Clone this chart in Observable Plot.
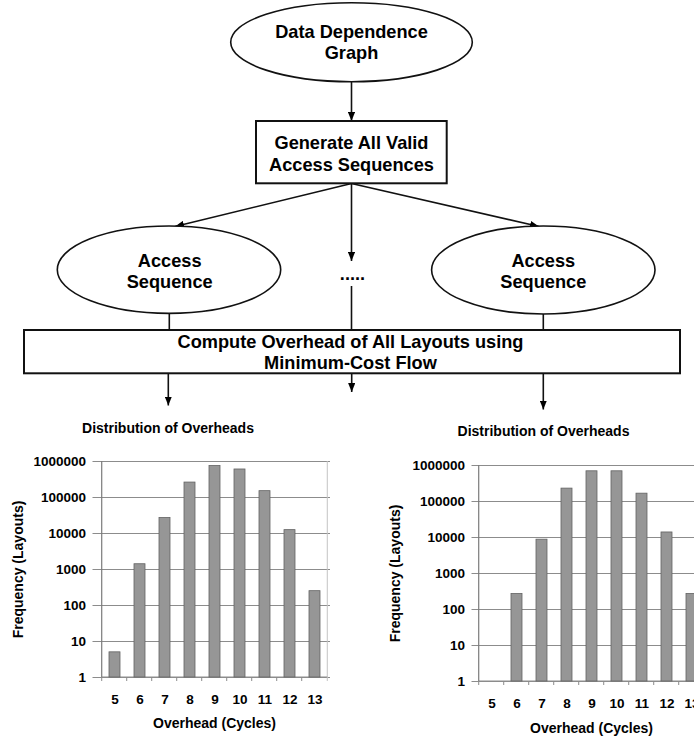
<!DOCTYPE html>
<html>
<head>
<meta charset="utf-8">
<script src="https://cdn.jsdelivr.net/npm/d3@7"></script>
<script src="https://cdn.jsdelivr.net/npm/@observablehq/plot@0.6"></script>
<style>
  html, body { margin: 0; padding: 0; background: #fff; }
  #figure {
    position: relative; width: 694px; height: 740px; overflow: hidden; background: #fff;
    font-family: "Liberation Sans", Arial, sans-serif; font-weight: bold;
  }
  #figure > svg { position: absolute; }
</style>
</head>
<body>
<div id="figure"></div>
<script>
// Overhead (cycles) categories and layout counts for the two access sequences
const overheads = [5, 6, 7, 8, 9, 10, 11, 12, 13];
const countsLeft = [5, 1400, 27000, 260000, 750000, 600000, 150000, 12400, 250];
const countsRight = [null, 270, 8700, 228000, 690000, 690000, 165000, 13800, 270];
const frequencyTicks = [1, 10, 100, 1000, 10000, 100000, 1000000];

const chartTitle = "Distribution of Overheads";
const xLabel = "Overhead (Cycles)";
const yLabel = "Frequency (Layouts)";

// Flowchart labels
const graphLabel = ["Data Dependence", "Graph"];
const generateLabel = ["Generate All Valid", "Access Sequences"];
const sequenceLabel = ["Access", "Sequence"];
const computeLabel = ["Compute Overhead of All Layouts using", "Minimum-Cost Flow"];
const ellipsisLabel = ".....";

const FONT = '"Liberation Sans", Arial, sans-serif';
const fig = document.getElementById("figure");

/* ---------- flowchart ---------- */
const svg = d3.select(fig).append("svg")
  .attr("width", 694).attr("height", 410)
  .style("left", "0px").style("top", "0px")
  .attr("font-family", FONT).attr("font-weight", "bold").attr("font-size", 18.2);

svg.append("defs").append("marker")
  .attr("id", "head").attr("viewBox", "0 0 10 8")
  .attr("refX", 10).attr("refY", 4)
  .attr("markerWidth", 9).attr("markerHeight", 7.5)
  .attr("markerUnits", "userSpaceOnUse").attr("orient", "auto")
  .append("path").attr("d", "M0,0L10,4L0,8Z").attr("fill", "#000");

const ink = "#111";
function ellipse(cx, cy, rx, ry) {
  svg.append("ellipse").attr("cx", cx).attr("cy", cy).attr("rx", rx).attr("ry", ry)
    .attr("fill", "#fff").attr("stroke", ink).attr("stroke-width", 1.6);
}
function box(x1, y1, x2, y2) {
  svg.append("rect").attr("x", x1).attr("y", y1).attr("width", x2 - x1).attr("height", y2 - y1)
    .attr("fill", "#fff").attr("stroke", ink).attr("stroke-width", 2);
}
function line(x1, y1, x2, y2, arrow) {
  const l = svg.append("line").attr("x1", x1).attr("y1", y1).attr("x2", x2).attr("y2", y2)
    .attr("stroke", ink).attr("stroke-width", 1.6);
  if (arrow) l.attr("marker-end", "url(#head)");
}
function label(lines, cx, baselines, size) {
  lines.forEach((t, i) => {
    svg.append("text").attr("x", cx).attr("y", baselines[i]).attr("text-anchor", "middle")
      .attr("font-size", size || 18.2).attr("fill", "#000").text(t);
  });
}

// connectors first so nodes sit on top
line(351.5, 82, 351.5, 121, true);
line(351.5, 183.5, 175, 226.5, true);
line(351.5, 183.5, 351.5, 261, true);
line(351.5, 183.5, 539, 226.5, true);
line(351.5, 286, 351.5, 330);
line(169.3, 313, 169.3, 330);
line(543.3, 313, 543.3, 330);
line(168.3, 373.5, 168.3, 405.5, true);
line(351.7, 373.5, 351.7, 392, true);
line(543.3, 373.5, 543.3, 409.5, true);

ellipse(351.5, 42.2, 120.8, 39.5);
box(256, 121, 446.7, 183.3);
ellipse(169, 269.7, 111.7, 43.7);
ellipse(543.3, 270, 111.7, 44);
box(24, 330, 680, 373.3);

label(graphLabel, 351.5, [38, 58.7]);
label(generateLabel, 351.5, [148.5, 170.8]);
label(sequenceLabel, 169.7, [266.8, 288]);
label(sequenceLabel, 543.3, [266.8, 288]);
label(computeLabel, 350.5, [348.4, 368.6]);
label([ellipsisLabel], 352.5, [280]);

/* ---------- frequency charts ---------- */
const PAD_INNER = 0.57;

// value axis line, category boundary ticks and the light right border
function categoryFrame() {
  return (index, {x, y}) => {
    const bw = x.bandwidth();
    const step = bw / (1 - PAD_INNER);
    const edges = overheads.map(d => x(d) + bw / 2 - step / 2);
    edges.push(x(overheads[overheads.length - 1]) + bw / 2 + step / 2);
    const x0 = edges[0], x1 = edges[edges.length - 1];
    const yb = y(frequencyTicks[0]), yt = y(frequencyTicks[frequencyTicks.length - 1]);
    const g = d3.create("svg:g");
    g.append("line").attr("x1", x1).attr("x2", x1).attr("y1", yt).attr("y2", yb)
      .attr("stroke", "#c4c4c4").attr("stroke-width", 1);
    g.append("line").attr("x1", x0).attr("x2", x1).attr("y1", yb).attr("y2", yb)
      .attr("stroke", "#8c8c8c").attr("stroke-width", 1);
    edges.forEach((e, i) => {
      g.append("line").attr("x1", e).attr("x2", e).attr("y1", yb).attr("y2", yb + 4)
        .attr("stroke", i === edges.length - 1 ? "#c4c4c4" : "#8c8c8c");
    });
    g.append("line").attr("x1", x0).attr("x2", x0).attr("y1", yt).attr("y2", yb)
      .attr("stroke", "#7a7a7a").attr("stroke-width", 1.2);
    return g.node();
  };
}

function overheadChart(counts, o) {
  const data = overheads.map((v, i) => ({overhead: v, count: counts[i]}))
    .filter(d => d.count != null && d.count > 0);
  const textStyle = {fontSize: 14, fontWeight: "bold", fill: "#000", lineAnchor: "middle", textAnchor: "middle"};
  const chart = Plot.plot({
    width: 340,
    height: 330,
    marginLeft: o.marginLeft,
    marginRight: o.marginRight,
    marginTop: o.marginTop,
    marginBottom: o.marginBottom,
    style: {fontFamily: FONT, fontWeight: "bold", color: "#000", background: "transparent", overflow: "visible"},
    x: {type: "band", domain: overheads, paddingInner: PAD_INNER, paddingOuter: PAD_INNER / 2, axis: null},
    y: {type: "log", domain: [1, 1000000], axis: null},
    marks: [
      Plot.ruleY(frequencyTicks, {y: d => d, stroke: "#8c8c8c", strokeWidth: 1}),
      categoryFrame(),
      Plot.barY(data, {x: "overhead", y1: 1, y2: "count", fill: "#969696", stroke: "#626262", strokeWidth: 0.8}),
      Plot.axisY(frequencyTicks, {
        tickFormat: d3.format("d"), tickSize: 5.5, tickPadding: 7,
        stroke: "#8c8c8c", fill: "#000", fontSize: 13.5, fontWeight: "bold", label: null
      }),
      Plot.axisX(overheads, {
        tickSize: 0, tickPadding: o.xTickPadding, fill: "#000", fontSize: 13.5, fontWeight: "bold", label: null
      }),
      Plot.text([yLabel], {...textStyle, text: d => d, frameAnchor: "left", rotate: -90, dx: o.yLabelDx}),
      Plot.text([xLabel], {...textStyle, text: d => d, frameAnchor: "bottom", dy: o.xLabelDy}),
      Plot.text([chartTitle], {...textStyle, text: d => d, frameAnchor: "top-left", dx: o.titleDx, dy: o.titleDy})
    ]
  });
  chart.style.left = o.left + "px";
  chart.style.top = o.top + "px";
  fig.appendChild(chart);
}

overheadChart(countsLeft, {
  left: 0, top: 410,
  marginLeft: 98, marginRight: 10, marginTop: 51, marginBottom: 63,
  xTickPadding: 16.5, yLabelDx: -79.5, xLabelDy: 46.5, titleDx: 69.5, titleDy: -33
});

overheadChart(countsRight, {
  left: 380, top: 410,
  marginLeft: 97, marginRight: 15, marginTop: 55, marginBottom: 59,
  xTickPadding: 17.3, yLabelDx: -81.5, xLabelDy: 47.5, titleDx: 66, titleDy: -34
});
</script>
</body>
</html>
